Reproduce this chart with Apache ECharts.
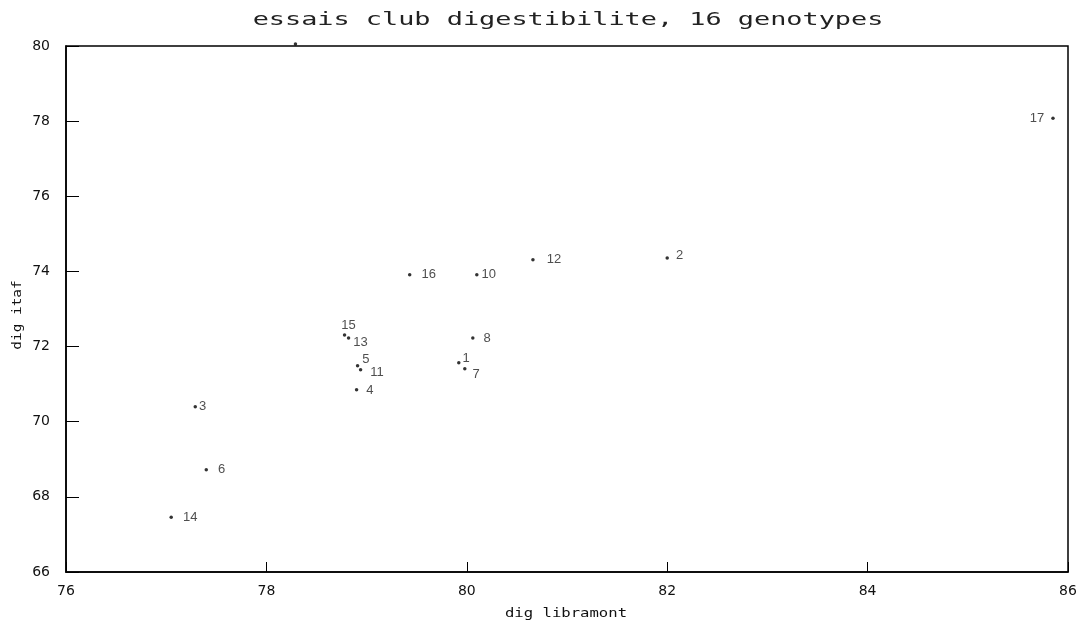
<!DOCTYPE html>
<html>
<head>
<meta charset="utf-8">
<script src="https://cdn.jsdelivr.net/npm/echarts@6/dist/echarts.min.js"></script>
<style>
  html, body { margin: 0; padding: 0; background: #fff; }
  #main { width: 1084px; height: 626px; }
</style>
</head>
<body>
<div id="main"></div>
<script>
// genotype numbers (9 has its label cut off at the top of the frame)
const genotypes = ['1','2','3','4','5','6','7','8','9','10','11','12','13','14','15','16','17'];
const digLibramont = [79.92, 82.00, 77.29, 78.90, 78.91, 77.40, 79.98, 80.06, 78.29, 80.10, 78.94, 80.66, 78.82, 77.05, 78.78, 79.43, 85.85];
const digItaf      = [71.57, 74.36, 70.40, 70.85, 71.49, 68.72, 71.41, 72.23, 80.05, 73.91, 71.38, 74.31, 72.23, 67.46, 72.31, 73.91, 78.08];
const xTicks = [76, 78, 80, 82, 84, 86];
const yTicks = [66, 68, 70, 72, 74, 76, 78, 80];

// where each number sits next to its dot
const labelLayout = {
    '1':  {position: 'right', distance: 2, offset: [0, -4]},
    '2':  {position: 'right', distance: 7, offset: [0, -2]},
    '3':  {position: 'right', distance: 2},
    '4':  {position: 'right', distance: 8, offset: [0, 1]},
    '5':  {position: 'right', distance: 3, offset: [0, -6]},
    '6':  {position: 'right', distance: 10},
    '7':  {position: 'right', distance: 6, offset: [0, 6]},
    '8':  {position: 'right', distance: 9},
    '9':  {show: false},
    '10': {position: 'right', distance: 3},
    '11': {position: 'right', distance: 8, offset: [0, 3]},
    '12': {position: 'right', distance: 12},
    '13': {position: 'right', distance: 3, offset: [0, 4]},
    '14': {position: 'right', distance: 10},
    '15': {position: 'top', distance: 1, offset: [4, 0]},
    '16': {position: 'right', distance: 10},
    '17': {position: 'left', distance: 7}
};

const points = genotypes.map((g, i) => ({
    name: g,
    value: [digLibramont[i], digItaf[i]],
    label: labelLayout[g]
}));

const axisFont = {fontFamily: 'DejaVu Sans', fontSize: 14, color: '#111'};
const nameFont = {fontFamily: 'DejaVu Sans Mono', fontSize: 12, fill: '#111', align: 'center', verticalAlign: 'middle'};

let myChart = echarts.init(document.getElementById('main'));
let option = {
    backgroundColor: '#fff',
    animation: false,
    graphic: [{
        type: 'text',
        x: 568,
        y: 21,
        scaleX: 1.58,
        style: Object.assign({}, nameFont, {text: 'essais club digestibilite, 16 genotypes', fontSize: 17, fill: '#222'})
    }, {
        type: 'text',
        x: 566,
        y: 614,
        scaleX: 1.3,
        style: Object.assign({}, nameFont, {text: 'dig libramont'})
    }, {
        type: 'text',
        x: 18,
        y: 315,
        rotation: Math.PI / 2,
        scaleX: 1.2,
        style: Object.assign({}, nameFont, {text: 'dig itaf'})
    }],
    grid: {
        left: 66, right: 16, top: 46, bottom: 54,
        show: true, borderColor: '#000', borderWidth: 1.5
    },
    xAxis: {
        type: 'value',
        min: 76, max: 86, interval: 2,
        axisLine: {lineStyle: {color: '#000', width: 1.5}},
        axisTick: {inside: true, length: 10, lineStyle: {color: '#000'}},
        axisLabel: Object.assign({margin: 12, formatter: v => xTicks.includes(v) ? String(v) : ''}, axisFont),
        splitLine: {show: false}
    },
    yAxis: {
        type: 'value',
        min: 66, max: 80, interval: 2,
        axisLine: {show: true, lineStyle: {color: '#000', width: 1.5}},
        axisTick: {show: true, inside: true, length: 13, lineStyle: {color: '#000'}},
        axisLabel: Object.assign({margin: 16, formatter: v => yTicks.includes(v) ? String(v) : ''}, axisFont),
        splitLine: {show: false}
    },
    series: [{
        type: 'scatter',
        symbol: 'circle',
        symbolSize: 3.5,
        itemStyle: {color: '#000'},
        clip: false,
        label: {
            show: true,
            formatter: '{b}',
            fontFamily: 'Liberation Sans',
            fontSize: 13,
            color: '#222'
        },
        data: points
    }]
};
myChart.setOption(option);
</script>
</body>
</html>
